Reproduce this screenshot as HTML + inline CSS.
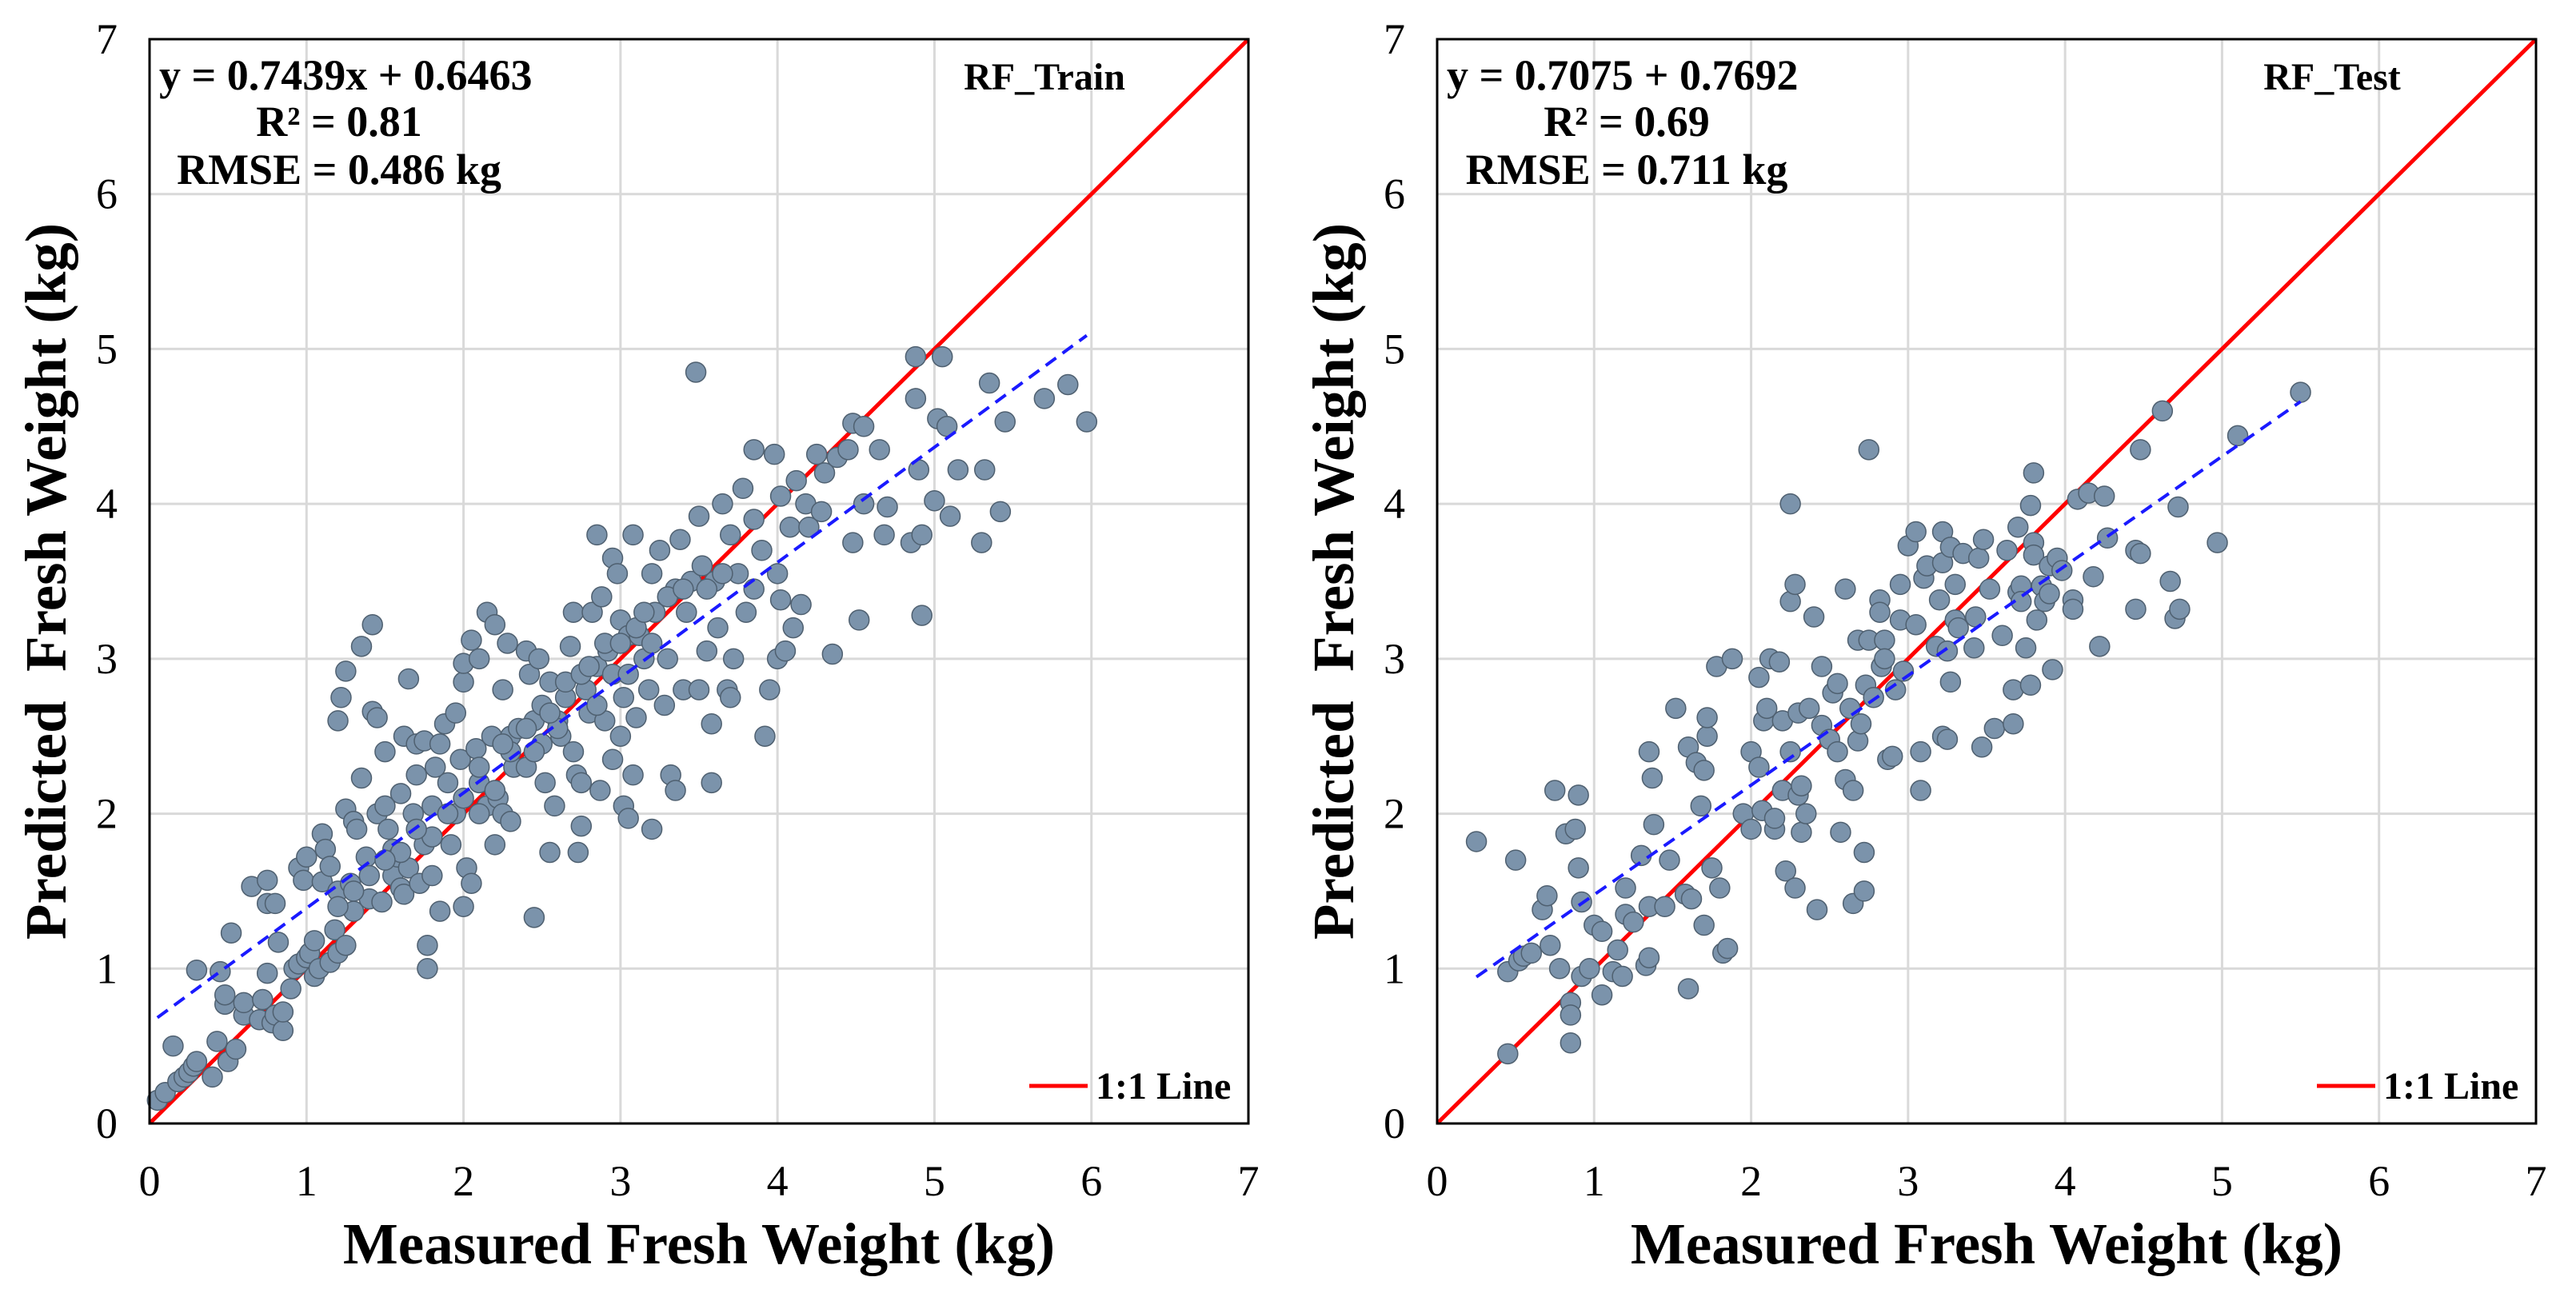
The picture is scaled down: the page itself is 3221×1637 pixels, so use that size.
<!DOCTYPE html>
<html><head><meta charset="utf-8"><style>
html,body{margin:0;padding:0;background:#fff;}
svg{display:block;font-family:"Liberation Serif","Times New Roman",serif;}
</style></head><body>
<svg id="chart" width="3221" height="1637" viewBox="0 0 3221 1637" xmlns="http://www.w3.org/2000/svg"></svg>
<script>
const tickValues=[0,1,2,3,4,5,6,7];
const trainX=[0.05,0.1,0.15,0.18,0.22,0.25,0.28,0.3,0.3,0.4,0.43,0.45,0.48,0.48,0.5,0.52,0.55,0.6,0.6,0.65,0.7,0.72,0.75,0.75,0.75,0.78,0.8,0.8,0.82,0.85,0.85,0.9,0.92,0.95,0.95,0.98,1.0,1.0,1.02,1.05,1.05,1.08,1.1,1.1,1.12,1.15,1.15,1.18,1.2,1.2,1.2,1.22,1.25,1.25,1.25,1.28,1.3,1.3,1.32,1.35,1.35,1.38,1.4,1.42,1.42,1.45,1.45,1.48,1.5,1.5,1.52,1.55,1.55,1.58,1.6,1.6,1.62,1.62,1.65,1.65,1.68,1.7,1.7,1.72,1.75,1.75,1.77,1.77,1.8,1.8,1.82,1.85,1.85,1.88,1.9,1.92,1.95,1.95,1.98,2.0,2.0,2.0,2.02,2.05,2.05,2.08,2.1,2.1,2.15,2.15,2.18,2.2,2.2,2.22,2.25,2.25,2.28,2.3,2.3,2.32,2.35,2.4,2.4,2.42,2.45,2.45,2.48,2.5,2.52,2.55,2.55,2.58,2.6,2.62,2.65,2.68,2.7,2.7,2.72,2.73,2.75,2.75,2.78,2.8,2.82,2.85,2.85,2.87,2.88,2.9,2.92,2.95,2.95,2.98,3.0,3.0,3.02,3.02,3.05,3.05,3.08,3.08,3.1,3.12,3.15,3.18,3.2,3.2,3.22,3.25,3.28,3.3,3.32,3.35,3.35,3.38,3.4,3.42,3.45,3.48,3.5,3.5,3.52,3.55,3.58,3.58,3.6,3.62,3.65,3.68,3.7,3.7,3.72,3.75,3.78,3.8,3.85,3.85,3.85,3.9,3.92,3.95,3.98,4.0,4.0,4.02,4.02,4.05,4.08,4.1,4.12,4.15,4.18,4.2,4.25,4.28,4.3,4.35,4.38,4.45,4.48,4.48,4.52,4.55,4.55,4.65,4.68,4.7,4.85,4.88,4.88,4.9,4.92,4.92,5.0,5.02,5.05,5.08,5.1,5.15,5.3,5.32,5.35,5.42,5.45,5.7,5.85,5.97,2.1,2.2,2.3,2.4,2.5,2.6,2.65,2.75,2.85,2.9,2.95,3.0,3.1,3.2,1.9,1.8,1.7,1.6,1.5,1.4,1.3,1.2,2.0,2.1,2.25,2.45,2.55,2.8,3.05,3.15,3.3,3.4,3.55,3.65];
const trainY=[0.15,0.2,0.5,0.27,0.3,0.33,0.37,0.4,0.99,0.3,0.53,0.98,0.77,0.83,0.4,1.23,0.48,0.7,0.78,1.53,0.67,0.8,1.57,0.97,1.42,0.65,0.7,1.42,1.17,0.6,0.72,0.87,1.0,1.03,1.65,1.57,1.72,1.07,1.1,0.95,1.18,1.0,1.56,1.87,1.77,1.04,1.66,1.25,1.1,1.5,2.6,2.75,2.92,1.15,2.03,1.55,1.95,1.37,1.9,2.23,3.08,1.72,1.45,3.22,2.66,2.62,2.0,1.43,2.05,2.4,1.9,1.77,1.6,1.72,2.13,1.52,1.48,2.5,2.87,1.65,2.0,2.25,2.45,1.55,1.8,2.47,1.15,1.0,1.6,2.05,2.3,2.45,1.37,2.58,2.2,1.8,2.0,2.65,2.35,1.4,2.85,2.97,1.65,3.12,1.55,2.42,2.2,3.0,2.05,3.3,2.5,3.22,1.8,2.1,2.0,2.8,3.1,2.5,1.95,2.3,2.55,3.05,2.3,2.9,1.33,2.6,3.0,2.45,2.2,1.75,2.85,2.05,2.6,2.5,2.75,3.08,2.4,3.3,2.25,1.75,2.2,1.92,2.8,2.65,3.3,2.95,3.8,2.15,3.4,2.6,3.05,2.35,3.65,3.55,2.5,3.25,2.05,2.75,3.15,1.97,2.25,3.8,2.62,3.15,3.0,2.8,3.55,1.9,3.3,3.7,2.7,3.0,2.25,2.15,3.45,3.77,2.8,3.3,3.5,4.85,2.8,3.92,3.6,3.05,2.2,2.58,3.5,3.2,4.0,2.8,2.75,3.8,3.0,3.55,4.1,3.3,4.35,3.9,3.45,3.7,2.5,2.8,4.32,3.0,3.55,4.05,3.38,3.05,3.85,3.2,4.15,3.35,4.0,3.85,4.32,3.95,4.2,3.03,4.3,4.35,3.75,4.52,3.25,4.0,4.5,4.35,3.8,3.98,3.75,4.95,4.68,4.22,3.8,3.28,4.02,4.55,4.95,4.5,3.92,4.22,3.75,4.22,4.78,3.95,4.53,4.68,4.77,4.53,2.0,2.15,2.4,2.55,2.7,2.55,2.85,2.9,2.7,3.1,2.9,3.1,3.2,3.1,2.0,1.85,1.9,1.75,1.7,1.6,1.5,1.4,2.1,2.3,2.45,2.4,2.65,2.95,2.9,3.3,3.4,3.45,3.45,3.55];
const testX=[0.25,0.45,0.45,0.5,0.52,0.55,0.6,0.67,0.7,0.72,0.75,0.78,0.82,0.85,0.85,0.85,0.88,0.9,0.9,0.92,0.92,0.97,1.0,1.05,1.05,1.12,1.15,1.18,1.2,1.2,1.25,1.3,1.33,1.35,1.35,1.35,1.37,1.38,1.45,1.48,1.52,1.58,1.6,1.6,1.62,1.65,1.68,1.7,1.7,1.72,1.72,1.75,1.78,1.8,1.82,1.85,1.88,1.95,2.0,2.0,2.05,2.05,2.07,2.08,2.1,2.12,2.15,2.15,2.18,2.2,2.2,2.22,2.25,2.25,2.25,2.28,2.28,2.3,2.3,2.32,2.32,2.35,2.37,2.4,2.42,2.45,2.45,2.5,2.52,2.55,2.55,2.57,2.6,2.6,2.63,2.65,2.65,2.68,2.68,2.7,2.72,2.72,2.73,2.75,2.75,2.78,2.82,2.82,2.83,2.85,2.85,2.87,2.9,2.92,2.95,2.95,2.97,3.0,3.05,3.05,3.08,3.08,3.1,3.12,3.18,3.2,3.22,3.22,3.22,3.25,3.25,3.27,3.27,3.3,3.3,3.32,3.35,3.42,3.43,3.45,3.47,3.48,3.52,3.55,3.6,3.63,3.67,3.67,3.7,3.7,3.72,3.72,3.75,3.78,3.78,3.8,3.8,3.8,3.82,3.85,3.87,3.9,3.9,3.92,3.95,3.98,4.05,4.05,4.08,4.15,4.18,4.22,4.25,4.27,4.45,4.45,4.48,4.48,4.67,4.7,4.72,4.73,4.62,4.97,5.1,5.5];
const testY=[1.82,0.98,0.45,1.7,1.05,1.08,1.1,1.38,1.47,1.15,2.15,1.0,1.87,0.78,0.52,0.7,1.9,1.65,2.12,1.43,0.95,1.0,1.28,0.83,1.24,0.98,1.12,0.95,1.52,1.35,1.3,1.73,1.02,1.4,1.07,2.4,2.23,1.93,1.4,1.7,2.68,1.48,0.87,2.43,1.45,2.33,2.05,2.28,1.28,2.5,2.62,1.65,2.95,1.52,1.1,1.13,3.0,2.0,1.9,2.4,2.88,2.3,2.02,2.6,2.68,3.0,1.9,1.97,2.98,2.6,2.15,1.63,4.0,3.37,2.4,3.48,1.52,2.65,2.12,2.18,1.88,2.0,2.68,3.27,1.38,2.95,2.57,2.48,2.78,2.4,2.84,1.88,3.45,2.22,2.68,1.42,2.15,3.12,2.47,2.58,1.75,1.5,2.83,4.35,3.12,2.75,3.38,3.3,2.95,3.12,3.0,2.35,2.37,2.8,3.25,3.48,2.92,3.73,3.82,3.22,2.4,2.15,3.52,3.6,3.08,3.38,3.82,3.62,2.5,2.48,3.05,2.85,3.72,3.25,3.48,3.2,3.68,3.07,3.27,3.65,2.43,3.77,3.45,2.55,3.15,3.7,2.8,2.58,3.85,3.43,3.47,3.37,3.07,2.83,3.99,4.2,3.75,3.67,3.25,3.47,3.37,3.6,3.42,2.93,3.65,3.57,3.38,3.32,4.03,4.07,3.53,3.08,4.05,3.78,3.7,3.32,4.35,3.68,3.5,3.26,3.98,3.32,4.6,3.75,4.44,4.72];
const trainFit=[0.7439,0.6463], trainFitRange=[0.05,5.97];
const testFit=[0.7075,0.7692], testFitRange=[0.25,5.5];

const NS="http://www.w3.org/2000/svg";
const svg=document.getElementById('chart');
function mk(tag,attrs,parent){const e=document.createElementNS(NS,tag);for(const k in attrs)e.setAttribute(k,attrs[k]);(parent||svg).appendChild(e);return e;}
function txt(s,attrs,parent){const e=mk('text',attrs,parent);e.textContent=s;return e;}

function panel(ox,xs,ys,fit,fr,eq,r2,rmse,label,key){
  const L=ox,R=ox+1374,T=49,B=1405;
  const sx=v=>L+(R-L)*v/7, sy=v=>B-(B-T)*v/7;
  const g=mk('g',{});
  
  
  for(const t of tickValues){
    if(t>0&&t<7){
      const gx=mk('line',{x1:sx(t),x2:sx(t),y1:T,y2:B,stroke:'#d9d9d9','stroke-width':3},g);
      
      
      const gy=mk('line',{x1:L,x2:R,y1:sy(t),y2:sy(t),stroke:'#d9d9d9','stroke-width':3},g);
      
      
    }
    const xl=txt(String(t),{x:sx(t),y:1495,'font-size':54,'text-anchor':'middle',fill:'#000'},g);
    
    
    const yl=txt(String(t),{x:L-40,y:sy(t)+18,'font-size':54,'text-anchor':'end',fill:'#000'},g);
    
    
  }
  const one=mk('line',{x1:sx(0),y1:sy(0),x2:sx(7),y2:sy(7),stroke:'#ff0000','stroke-width':5},g);
  
  
  for(let i=0;i<xs.length;i++){
    const c=mk('circle',{cx:sx(xs[i]),cy:sy(ys[i]),r:12.5,fill:'#7b93ab',stroke:'#4f6070','stroke-width':1.5},g);
    
    
  }
  const f=mk('line',{x1:sx(fr[0]),y1:sy(fit[0]*fr[0]+fit[1]),x2:sx(fr[1]),y2:sy(fit[0]*fr[1]+fit[1]),stroke:'#1a1aff','stroke-width':4,'stroke-dasharray':'16,10'},g);
  
  
  const frame=mk('rect',{x:L,y:T,width:R-L,height:B-T,fill:'none',stroke:'#000','stroke-width':3},g);
  
  
  const a1=txt(eq,{x:L+12,y:112,'font-size':54,'font-weight':'bold'},g);
  
  
  const a2=txt(r2,{x:L+237,y:170,'font-size':54,'font-weight':'bold','text-anchor':'middle'},g);
  
  
  const a3=txt(rmse,{x:L+237,y:230,'font-size':54,'font-weight':'bold','text-anchor':'middle'},g);
  
  
  const lb=txt(label,{x:L+1119,y:112,'font-size':48,'font-weight':'bold','text-anchor':'middle'},g);
  
  
  const lgl=mk('line',{x1:L+1100,x2:L+1173,y1:1358,y2:1358,stroke:'#ff0000','stroke-width':5},g);
  
  
  const lgt=txt('1:1 Line',{x:L+1183,y:1374,'font-size':48,'font-weight':'bold'},g);
  
  
  const xt=txt('Measured Fresh Weight (kg)',{x:(L+R)/2,y:1580,'font-size':73,'font-weight':'bold','text-anchor':'middle'},g);
  
  
  const yt=txt('Predicted\u00a0\u00a0Fresh Weight (kg)',{x:0,y:0,'font-size':73,'font-weight':'bold','text-anchor':'middle',transform:`translate(${L-105},${(T+B)/2}) rotate(-90)`},g);
  
  
}
panel(187,trainX,trainY,trainFit,trainFitRange,'y = 0.7439x + 0.6463','R² = 0.81','RMSE = 0.486 kg','RF_Train','train');
panel(1797,testX,testY,testFit,testFitRange,'y = 0.7075 + 0.7692','R² = 0.69','RMSE = 0.711 kg','RF_Test','test');
</script>
</body></html>
